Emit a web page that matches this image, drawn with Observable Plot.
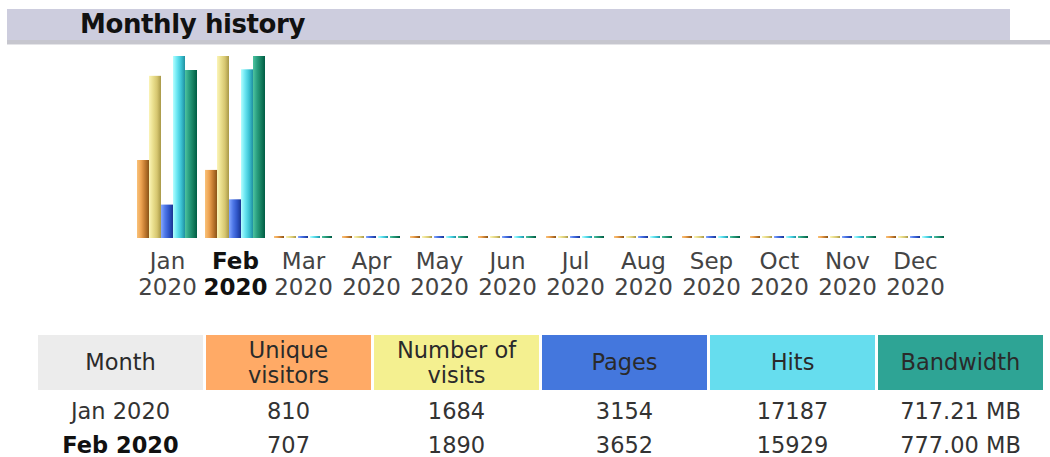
<!DOCTYPE html>
<html><head><meta charset="utf-8">
<script src="https://cdn.jsdelivr.net/npm/d3@7"></script>
<script src="https://cdn.jsdelivr.net/npm/@observablehq/plot@0.6"></script>
<style>
body{margin:0;background:#fff;font-family:"DejaVu Sans",Verdana,sans-serif;width:1050px;height:457px;overflow:hidden;position:relative}
#banner{position:absolute;left:7px;top:9px;width:1003px;height:31px;background:#cdcdde;}
#banner span{position:absolute;left:73px;top:0;line-height:31px;font-weight:bold;font-size:26px;color:#111;letter-spacing:-0.4px}
#rule{position:absolute;left:7px;top:40px;width:1043px;height:4px;background:#c6c6ce;border-bottom:1px solid #e4e4e8}
#chart{position:absolute;left:0;top:50px}
table{position:absolute;left:35px;top:335px;border-collapse:separate;border-spacing:3px 0;table-layout:fixed;font-size:22.5px;color:#333}
td,th{width:165px;text-align:center;padding:0;font-weight:normal}
th{height:55px;line-height:25px;color:#2a2a2a}
td{height:34px;line-height:34px}
tr:nth-child(2) td{padding-top:4px}
td.cur{font-weight:bold;color:#111}
</style></head>
<body>
<div id="banner"><span>Monthly history</span></div>
<div id="rule"></div>
<div id="chart"></div>
<script>
const months = ["Jan 2020","Feb 2020","Mar 2020","Apr 2020","May 2020","Jun 2020","Jul 2020","Aug 2020","Sep 2020","Oct 2020","Nov 2020","Dec 2020"];
const currentMonth = "Feb 2020";
const uniqueVisitors = [810, 707, 0, 0, 0, 0, 0, 0, 0, 0, 0, 0];
const visits = [1684, 1890, 0, 0, 0, 0, 0, 0, 0, 0, 0, 0];
const pages = [3154, 3652, 0, 0, 0, 0, 0, 0, 0, 0, 0, 0];
const hits = [17187, 15929, 0, 0, 0, 0, 0, 0, 0, 0, 0, 0];
const bandwidthMB = [717.21, 777.00, 0, 0, 0, 0, 0, 0, 0, 0, 0, 0];
const seriesNames = ["Unique visitors", "Number of visits", "Pages", "Hits", "Bandwidth"];
const headerLabels = ["Month", "Unique<br>visitors", "Number of<br>visits", "Pages", "Hits", "Bandwidth"];
const headerColors = ["#ececec", "#ffaa66", "#f4f090", "#4477dd", "#66ddee", "#2ea495"];
const gradientStops = [
  ["#f9c27a", "#eea452", "#c27a30", "#8a5418"],
  ["#fbf4b8", "#eadf8e", "#d6c670", "#a89848"],
  ["#86a8ff", "#4f78e8", "#2f55c8", "#1a3590"],
  ["#b4ffff", "#6ae6f2", "#3cc4d4", "#2090a0"],
  ["#4ec4a0", "#2a9f80", "#168060", "#005c44"]
];

// AWStats scaling: visitors & visits share max visits, pages & hits share max hits
const maxV = d3.max(visits), maxH = d3.max(hits), maxK = d3.max(bandwidthMB);
const seriesVals = [uniqueVisitors.map(v => v / maxV), visits.map(v => v / maxV),
  pages.map(v => v / maxH), hits.map(v => v / maxH), bandwidthMB.map(v => v / maxK)];
const data = [];
months.forEach((m, i) => seriesNames.forEach((s, j) => data.push({month: m, series: s, norm: seriesVals[j][i]})));

const gradIds = seriesNames.map((s, j) => "grad" + j);
const chart = Plot.plot({
  width: 1050, height: 250,
  marginTop: 6, marginBottom: 62, marginLeft: 135, marginRight: 103,
  fx: {domain: months, paddingInner: 0.12, paddingOuter: 0, label: null},
  x: {domain: seriesNames, padding: 0, axis: null},
  y: {domain: [0, 1], axis: null},
  color: {domain: seriesNames, range: gradIds.map(id => `url(#${id})`)},
  style: {fontFamily: "DejaVu Sans, Verdana, sans-serif", background: "white"},
  marks: [
    Plot.barY(data.filter(d => d.norm > 0), {fx: "month", x: "series", y: "norm", fill: "series", inset: 0}),
    Plot.barY(data.filter(d => d.norm === 0), {fx: "month", x: "series", y: "norm", fill: "series", inset: 0, insetTop: -2, insetLeft: 1, insetRight: 1}),
    Plot.axisFx({anchor: "bottom", tickSize: 0, tickPadding: 12, fontSize: 23, lineHeight: 1.13, fill: "#444", label: null,
      tickFormat: d => d.replace(" ", "\n")})
  ]
});
const defs = d3.select(chart).insert("defs", ":first-child");
gradientStops.forEach((stops, j) => {
  const g = defs.append("linearGradient").attr("id", gradIds[j]).attr("x1", 0).attr("x2", 1).attr("y1", 0).attr("y2", 0);
  stops.forEach((c, k) => g.append("stop").attr("offset", k / (stops.length - 1)).attr("stop-color", c));
});
d3.select(chart).selectAll("text").each(function() {
  if (this.textContent.replace(/\s/g, "") === currentMonth.replace(/\s/g, "")) {
    d3.select(this).attr("font-weight", "bold").attr("fill", "#111");
  }
});
document.getElementById("chart").appendChild(chart);

// Summary table
const table = document.createElement("table");
let html = "<tr>" + headerLabels.map((h, i) => `<th style="background:${headerColors[i]}">${h}</th>`).join("") + "</tr>";
months.forEach((m, i) => {
  if (visits[i] === 0 && hits[i] === 0) return;
  const cls = m === currentMonth ? ' class="cur"' : "";
  html += `<tr><td${cls}>${m}</td><td>${uniqueVisitors[i]}</td><td>${visits[i]}</td><td>${pages[i]}</td><td>${hits[i]}</td><td>${bandwidthMB[i].toFixed(2)} MB</td></tr>`;
});
table.innerHTML = html;
document.body.appendChild(table);
</script>
</body></html>
